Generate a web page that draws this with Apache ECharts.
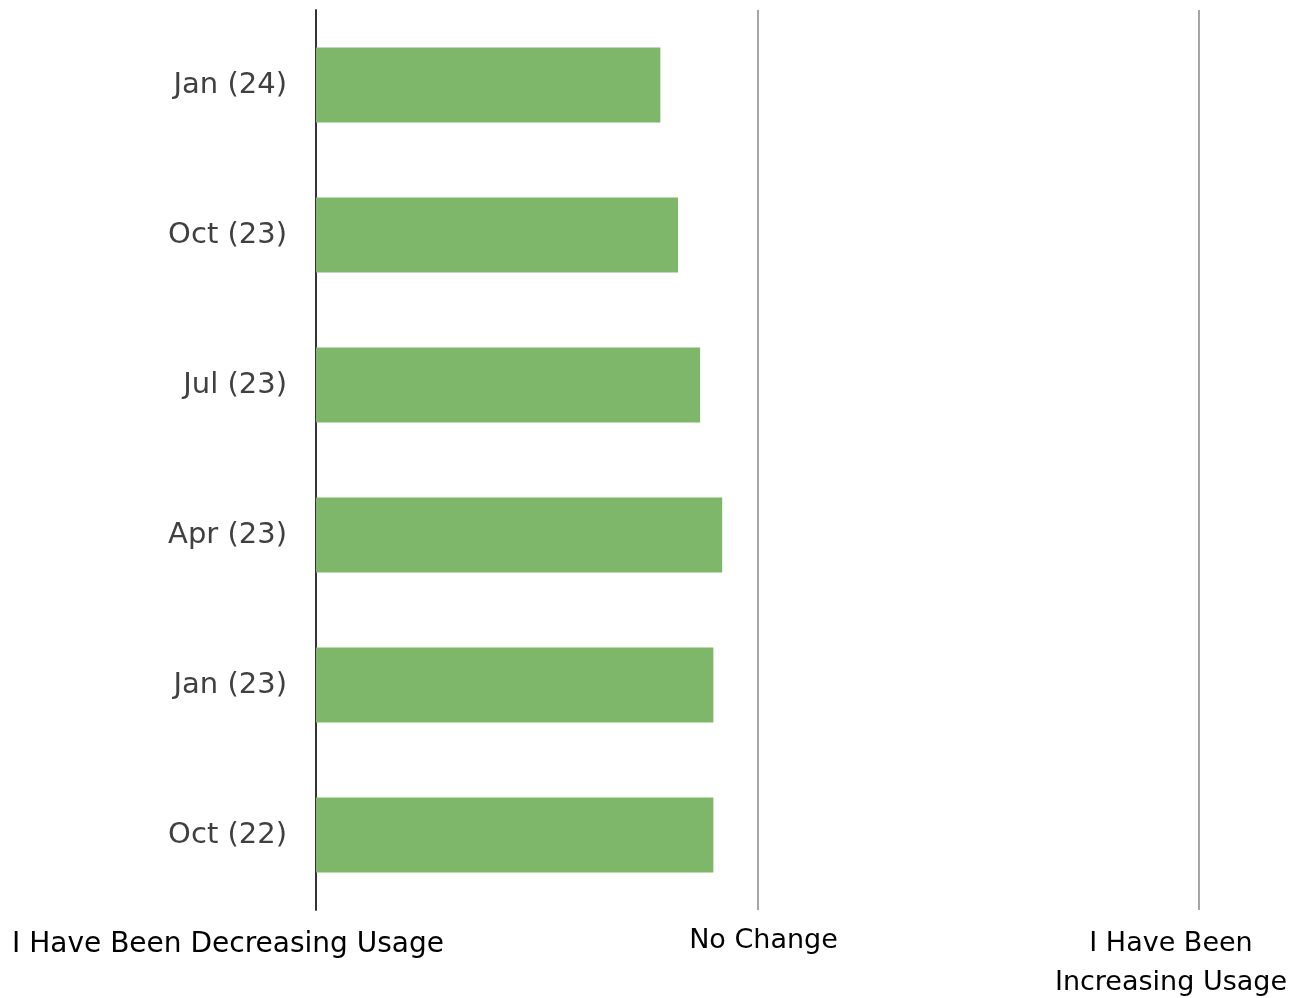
<!DOCTYPE html>
<html><head><meta charset="utf-8">
<script src="https://cdn.jsdelivr.net/npm/echarts@6/dist/echarts.min.js"></script>
<style>html,body{margin:0;padding:0;background:#fff}#c{width:1307px;height:998px}</style>
</head><body><div id="c"></div>
<script>
const categories = ['Oct (22)', 'Jan (23)', 'Apr (23)', 'Jul (23)', 'Oct (23)', 'Jan (24)'];
const values = [1.90, 1.90, 1.92, 1.87, 1.82, 1.78];
const tickLabels = { 1: 'I Have Been Decreasing Usage', 2: 'No Change', 3: 'I Have Been\nIncreasing Usage' };

const chart = echarts.init(document.getElementById('c'));
chart.setOption({
  animation: false,
  grid: { left: 316, right: 108, top: 10, bottom: 88, containLabel: false, outerBoundsMode: 'none' },
  xAxis: {
    type: 'value', min: 1, max: 3, interval: 1,
    axisLine: { show: false }, axisTick: { show: false },
    splitLine: { show: true, lineStyle: { color: '#a6a6a6', width: 2 } },
    axisLabel: {
      margin: 14,
      verticalAlign: 'top',
      hideOverlap: false,
      formatter: function (v) {
        if (v === 1) return '{a|' + tickLabels[1] + '}';
        if (v === 2) return '{b|' + tickLabels[2] + '}';
        if (v === 3) return '{c|' + tickLabels[3] + '}';
        return '';
      },
      rich: {
        a: { fontFamily: 'DejaVu Sans', fontSize: 28, color: '#000', padding: [8, 176, 0, 0], lineHeight: 34 },
        b: { fontFamily: 'DejaVu Sans', fontSize: 27, color: '#000', padding: [0, 0, 0, 12], lineHeight: 34 },
        c: { fontFamily: 'DejaVu Sans', fontSize: 27, color: '#000', padding: [0, 56, 0, 0], lineHeight: 39 }
      }
    }
  },
  yAxis: {
    type: 'category', data: categories,
    axisLine: { show: true, lineStyle: { color: '#333', width: 2 } },
    axisTick: { show: false },
    axisLabel: { margin: 29, fontFamily: 'DejaVu Sans', fontSize: 29, color: '#404040' }
  },
  series: [{
    type: 'bar', data: values, barWidth: '50%',
    itemStyle: { color: '#7eb66a' }
  }]
});
</script></body></html>
